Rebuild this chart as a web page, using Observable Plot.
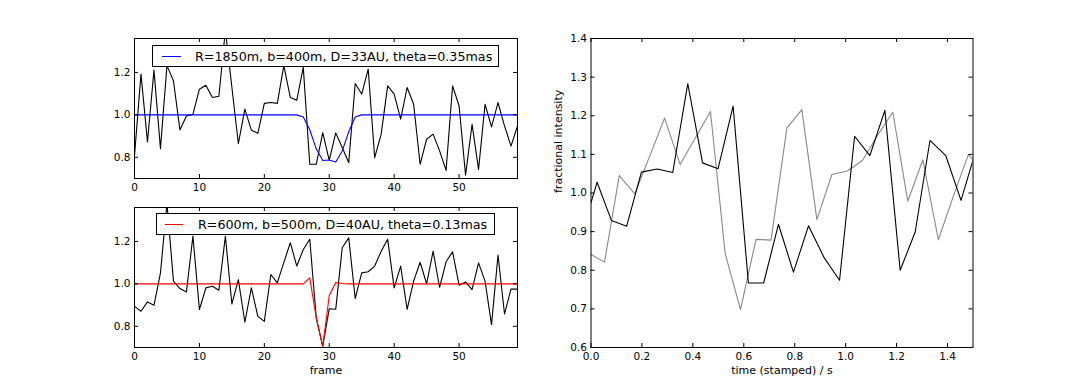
<!DOCTYPE html>
<html><head><meta charset="utf-8">
<script src="https://cdn.jsdelivr.net/npm/d3@7"></script>
<script src="https://cdn.jsdelivr.net/npm/@observablehq/plot@0.6"></script>
<style>
body{margin:0;background:#fff;}
#fig{position:relative;width:1080px;height:386px;font-family:"DejaVu Sans",sans-serif;background:#fff;overflow:hidden;}
.panel{position:absolute;}
.legend{position:absolute;background:#fff;border:1px solid #000;box-sizing:border-box;display:flex;align-items:center;font-size:12.7px;white-space:nowrap;color:#000;}
.legend .swatch{display:inline-block;height:0;border-top:1.2px solid;}
</style></head><body><div id="fig"></div>
<script>
// ---------- data ----------
const frameXTicks = [0, 10, 20, 30, 40, 50];
const frameYTicks = [0.8, 1.0, 1.2];
const timeXTicks = [0.0, 0.2, 0.4, 0.6, 0.8, 1.0, 1.2, 1.4];
const timeYTicks = [0.6, 0.7, 0.8, 0.9, 1.0, 1.1, 1.2, 1.3, 1.4];

const topLegend = "R=1850m, b=400m, D=33AU, theta=0.35mas";
const bottomLegend = "R=600m, b=500m, D=40AU, theta=0.13mas";
const frameLabel = "frame";
const timeLabel = "time (stamped) / s";
const intensityLabel = "fractional intensity";

const topObserved = [0.806,1.192,0.872,1.211,0.841,1.232,1.161,0.929,0.995,1.002,
  1.121,1.140,1.082,1.088,1.400,1.130,0.864,1.027,0.928,0.913,
  1.054,1.058,1.054,1.232,1.082,1.069,1.224,0.767,0.767,0.916,
  0.786,0.915,0.846,0.775,1.148,1.098,1.216,0.798,0.909,1.137,
  1.098,0.980,1.129,1.050,0.767,0.885,0.909,0.830,0.738,1.137,
  1.043,0.716,0.956,0.743,1.050,0.943,1.058,0.948,0.853,0.948];
const topModel = [1,1,1,1,1,1,1,1,1,1,
  1,1,1,1,1,1,1,1,1,1,
  1,1,1,1,1,1.0,0.99,0.93,0.84,0.785,
  0.787,0.778,0.83,0.92,0.99,1,1,1,1,1,
  1,1,1,1,1,1,1,1,1,1,
  1,1,1,1,1,1,1,1,1,1];

const bottomObserved = [0.894,0.871,0.915,0.899,1.052,1.380,1.013,0.978,0.962,1.225,
  0.879,0.981,0.989,0.970,1.225,0.905,1.020,0.819,0.981,0.847,
  0.823,1.044,1.005,1.100,1.194,1.084,1.162,1.210,0.839,0.705,
  0.883,0.880,1.170,1.217,0.931,1.052,1.057,1.084,1.154,1.210,
  0.981,1.084,0.880,1.013,1.102,1.000,1.154,0.984,1.104,1.151,
  0.994,1.009,0.973,1.099,1.013,0.808,1.136,0.858,0.976,0.975];
const bottomModel = [1,1,1,1,1,1,1,1,1,1,
  1,1,1,1,1,1,1,1,1,1,
  1,1,1,1,1,1,1,1.028,0.84,0.705,
  0.945,1.006,1.002,1,1,1,1,1,1,1,
  1,1,1,1,1,1,1,1,1,1,
  1,1,1,1,1,1,1,1,1,1];

const blackTimes = [0.000,0.024,0.080,0.140,0.198,0.260,0.321,0.380,0.438,0.499,
  0.558,0.618,0.678,0.736,0.795,0.854,0.916,0.976,1.035,1.095,
  1.154,1.214,1.273,1.331,1.393,1.453,1.500];
const blackIntensity = [0.975,1.028,0.929,0.914,1.054,1.062,1.053,1.283,1.078,1.063,
  1.225,0.767,0.767,0.919,0.795,0.915,0.832,0.774,1.147,1.097,
  1.214,0.800,0.899,1.136,1.097,0.981,1.085];
const grayTimes = [0.000,0.053,0.111,0.172,0.231,0.289,0.350,0.410,0.469,0.527,
  0.587,0.648,0.707,0.769,0.828,0.887,0.946,1.006,1.066,1.126,
  1.185,1.244,1.303,1.364,1.422,1.482,1.500];
const grayIntensity = [0.841,0.821,1.045,0.998,1.096,1.194,1.074,1.143,1.211,0.843,
  0.698,0.880,0.878,1.168,1.216,0.931,1.048,1.057,1.084,1.150,
  1.209,0.979,1.086,0.879,0.990,1.100,1.085];

// ---------- drawing ----------
const fig = document.getElementById("fig");

function makePanel(o) {
  const fw = o.width - o.ml - o.mr, fh = o.height - o.mt - o.mb, T = 4;
  const marks = [
    ...o.marks,
    Plot.tickX(o.xTicks, {x: d => d, insetTop: fh - T, stroke: "#000", strokeWidth: 1}),
    Plot.tickX(o.xTicks, {x: d => d, insetBottom: fh - T, stroke: "#000", strokeWidth: 1}),
    Plot.tickY(o.yTicks, {y: d => d, insetRight: fw - T, stroke: "#000", strokeWidth: 1}),
    Plot.tickY(o.yTicks, {y: d => d, insetLeft: fw - T, stroke: "#000", strokeWidth: 1}),
    Plot.frame({stroke: "#000", strokeWidth: 1}),
    Plot.axisX({ticks: o.xTicks, tickSize: 0, tickPadding: 5, tickFormat: o.xFmt, label: null, fill: "#000"}),
    Plot.axisY({ticks: o.yTicks, tickSize: 0, tickPadding: 4, tickFormat: o.yFmt, label: null, fill: "#000"})
  ];
  if (o.xlabel) marks.push(Plot.text([o.xlabel], {frameAnchor: "bottom", dy: 26, text: d => d, fontSize: 11, fill: "#000"}));
  if (o.ylabel) marks.push(Plot.text([o.ylabel], {frameAnchor: "left", dx: -33, rotate: -90, text: d => d, fontSize: 11, fill: "#000"}));
  const svg = Plot.plot({
    width: o.width, height: o.height,
    marginLeft: o.ml, marginRight: o.mr, marginTop: o.mt, marginBottom: o.mb,
    x: {domain: o.xDomain}, y: {domain: o.yDomain},
    style: {fontFamily: "DejaVu Sans", fontSize: "10.5px", color: "#000", background: "transparent", overflow: "visible"},
    marks
  });
  svg.classList.add("panel");
  svg.style.left = o.left + "px";
  svg.style.top = o.top + "px";
  fig.appendChild(svg);
}

function addLegend(text, color, pos) {
  const d = document.createElement("div");
  d.className = "legend";
  Object.assign(d.style, {left: pos.left + "px", top: pos.top + "px", width: pos.w + "px", height: pos.h + "px"});
  const sw = document.createElement("span");
  sw.className = "swatch";
  Object.assign(sw.style, {borderTopColor: color, width: pos.sw + "px", marginLeft: pos.pl + "px", marginRight: pos.gap + "px"});
  const t = document.createElement("span");
  t.textContent = text;
  d.appendChild(sw); d.appendChild(t);
  fig.appendChild(d);
}

const fmt1 = d3.format(".1f");
const fmt0 = d3.format("d");

makePanel({
  left: 0, top: 0, width: 540, height: 200, ml: 134, mr: 23, mt: 38, mb: 22,
  xDomain: [0, 59], yDomain: [0.70, 1.36], xTicks: frameXTicks, yTicks: frameYTicks,
  xFmt: fmt0, yFmt: fmt1,
  marks: [
    Plot.line(topObserved, {x: (d, i) => i, y: d => d, stroke: "#000", strokeWidth: 1.1, clip: true}),
    Plot.line(topModel, {x: (d, i) => i, y: d => d, stroke: "#0000ff", strokeWidth: 1.1, clip: true})
  ]
});

makePanel({
  left: 0, top: 190, width: 540, height: 196, ml: 134, mr: 23, mt: 17, mb: 39,
  xDomain: [0, 59], yDomain: [0.70, 1.36], xTicks: frameXTicks, yTicks: frameYTicks,
  xFmt: fmt0, yFmt: fmt1, xlabel: frameLabel,
  marks: [
    Plot.line(bottomObserved, {x: (d, i) => i, y: d => d, stroke: "#000", strokeWidth: 1.1, clip: true}),
    Plot.line(bottomModel, {x: (d, i) => i, y: d => d, stroke: "#ff0000", strokeWidth: 1.1, clip: true})
  ]
});

makePanel({
  left: 540, top: 0, width: 540, height: 386, ml: 50.5, mr: 107.5, mt: 38, mb: 39,
  xDomain: [0, 1.5], yDomain: [0.6, 1.4], xTicks: timeXTicks, yTicks: timeYTicks,
  xFmt: fmt1, yFmt: fmt1, xlabel: timeLabel, ylabel: intensityLabel,
  marks: [
    Plot.line(grayIntensity, {x: (d, i) => grayTimes[i], y: d => d, stroke: "#888", strokeWidth: 1.1, clip: true}),
    Plot.line(blackIntensity, {x: (d, i) => blackTimes[i], y: d => d, stroke: "#000", strokeWidth: 1.1, clip: true})
  ]
});

addLegend(topLegend, "#0000ff", {left: 152, top: 45, w: 347, h: 22, sw: 19, pl: 9, gap: 14});
addLegend(bottomLegend, "#ff0000", {left: 156, top: 213, w: 339, h: 22, sw: 18, pl: 8, gap: 15});
</script></body></html>
